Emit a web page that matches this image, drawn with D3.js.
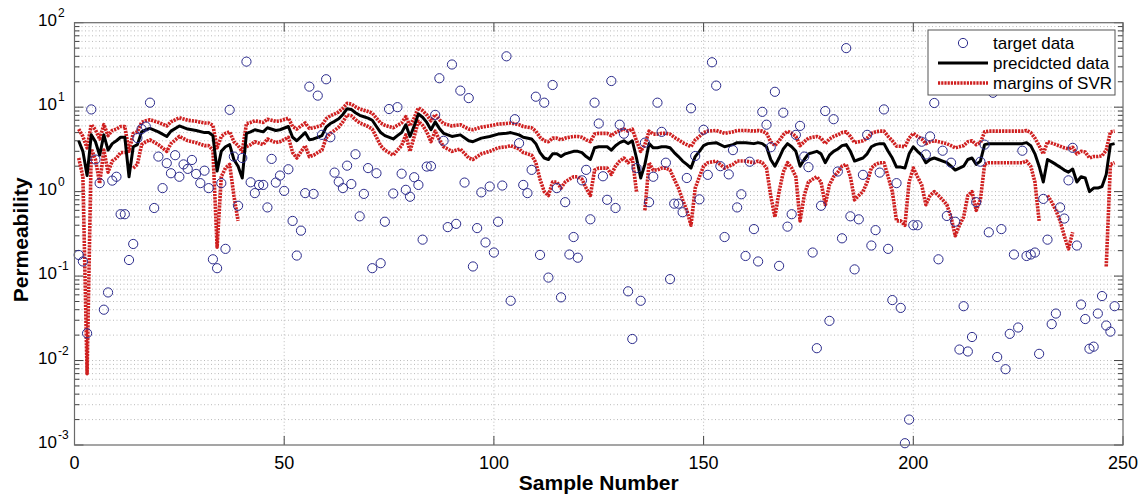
<!DOCTYPE html>
<html><head><meta charset="utf-8">
<script src="https://cdn.jsdelivr.net/npm/d3@7"></script>
<style>body{margin:0;background:#fff}svg{display:block}</style>
</head><body>
<svg id="c" width="1142" height="497"></svg>
<script>
const xTicks=[0,50,100,150,200,250];
const yTickExps=[2,1,0,-1,-2,-3];
const legendLabels=["target data","precidcted data","margins of SVR"];
const xTitle="Sample Number", yTitle="Permeability";

// target data, samples 1..248
const targetData=[0.178,0.149,0.021,9.4,2.4,1.26,0.04,0.064,1.35,1.5,
0.54,0.54,0.155,0.24,4.3,5.5,5.9,11.3,0.64,2.6,
1.1,2.17,1.65,2.7,1.5,2.1,1.86,2.37,1.62,1.26,
1.77,1.1,0.158,0.124,1.26,0.21,9.3,2.6,0.68,2.5,
34.6,1.29,0.96,1.2,1.2,0.65,2.44,1.28,1.55,1.02,
1.84,0.45,0.175,0.345,0.96,17.5,0.94,13.7,4.7,21.4,
4.4,1.68,1.31,1.1,2.03,1.23,2.77,0.51,0.94,1.9,
0.124,1.65,0.142,0.44,9.5,0.95,10,1.63,1.05,0.87,
1.48,1.2,0.27,1.98,2.0,8.1,22,4.0,0.38,32,
0.415,15.7,1.28,12.8,0.13,0.37,0.98,0.25,1.15,0.19,
0.44,1.18,40,0.051,7.2,3.74,1.2,0.96,1.81,13.3,
0.178,11.3,0.096,18.3,1.1,0.056,0.75,0.18,0.29,0.165,
1.36,1.81,0.47,11.3,6.4,1.52,0.8,20.4,0.64,6.2,
4.85,0.066,0.018,1.9,0.051,3.8,0.75,1.5,11.3,5.1,
2.2,0.092,0.72,0.72,0.57,1.45,9.7,2.64,0.81,5.4,
1.58,34,18,2.0,0.29,1.6,3.1,0.65,0.93,0.173,
2.26,0.36,0.149,8.8,6.2,3.35,15.2,0.132,8.6,0.385,
0.54,4.7,6.0,2.6,1.95,0.19,0.014,0.68,9.0,0.0295,
7.2,1.73,0.28,50,0.51,0.12,0.47,1.58,4.7,0.23,
0.35,1.68,9.4,0.21,0.052,1.26,0.042,0.00105,0.002,0.4,
0.4,3.9,2.75,4.5,11.2,0.158,3.05,0.515,2.2,0.44,
0.0135,0.044,0.0128,0.019,0.75,2.26,3.6,0.33,14.8,0.011,
0.36,0.0079,0.0207,0.18,0.0246,3.05,0.173,0.18,0.19,0.012,
0.82,0.27,0.027,0.036,0.65,0.48,1.36,3.3,0.23,0.046,
0.031,0.0138,0.0146,0.036,0.058,0.026,0.022,0.044];

// predicted data [sample, value]
const predictedData=[[1,4.0],[2,3.0],[3,1.55],[4,4.7],[5,3.9],[6,2.7],[7,4.7],[8,3.1],[9,3.7],[10,4.0],[11,4.4],[12,4.4],[13,1.5],[14,3.4],[15,3.6],[16,5.1],[17,5.4],[18,5.6],[20,5.1],[22,4.5],[23,5.2],[25,6.0],[27,5.5],[29,5.3],[31,5.0],[32,5.0],[33,4.6],[34,1.75],[35,3.0],[36,3.4],[37,3.6],[38,2.4],[39,2.0],[40,1.45],[41,4.9],[42,5.1],[43,5.4],[45,5.1],[46,5.7],[48,5.3],[49,5.4],[51,5.9],[52,4.4],[53,4.0],[55,5.0],[56,4.1],[57,4.2],[58,4.4],[59,4.6],[60,5.8],[61,6.4],[62,6.8],[63,7.3],[64,8.2],[65,9.6],[66,9.4],[67,8.6],[68,8.0],[69,7.7],[70,7.4],[71,7.0],[72,5.9],[73,5.0],[74,4.6],[76,4.2],[77,4.6],[78,5.0],[79,6.2],[80,4.5],[81,6.0],[82,8.3],[83,7.6],[84,6.6],[85,5.4],[86,6.7],[87,5.6],[88,4.9],[90,4.5],[92,4.7],[94,4.0],[95,3.9],[97,4.3],[99,4.5],[101,4.8],[103,4.9],[104,5.0],[106,4.7],[107,4.4],[109,4.2],[110,3.7],[111,2.9],[112,2.5],[113,2.4],[114,2.8],[115,2.8],[116,2.6],[117,2.8],[118,2.9],[119,3.0],[120,3.0],[121,2.9],[122,2.6],[123,2.4],[124,3.3],[125,3.4],[127,3.4],[128,3.1],[129,3.5],[130,3.8],[131,4.0],[132,3.7],[133,4.0],[134,2.5],[135,1.45],[136,2.1],[137,3.7],[138,3.3],[139,3.3],[140,3.4],[141,3.4],[142,3.3],[143,2.9],[144,2.6],[145,2.3],[146,2.1],[147,1.9],[148,2.6],[149,3.0],[150,3.5],[151,3.7],[153,3.8],[155,3.4],[156,3.5],[157,3.6],[158,3.8],[160,3.8],[162,3.7],[163,3.8],[164,3.7],[165,3.4],[166,2.4],[167,2.0],[168,2.5],[169,3.2],[170,3.7],[171,3.4],[172,3.0],[173,2.0],[174,2.4],[175,2.8],[176,2.9],[177,3.0],[178,2.8],[179,2.2],[180,2.7],[181,3.0],[182,3.2],[183,3.5],[184,3.6],[185,3.0],[186,2.3],[187,2.4],[188,2.5],[189,2.8],[190,3.4],[191,3.6],[192,3.7],[193,3.7],[194,3.0],[195,2.5],[196,1.95],[197,1.95],[198,1.9],[199,2.8],[200,3.4],[201,3.0],[202,2.7],[203,2.2],[204,2.4],[205,2.5],[206,2.4],[207,2.3],[208,2.2],[209,2.0],[210,1.8],[211,1.9],[212,2.0],[213,2.4],[214,2.5],[215,2.1],[216,2.3],[217,3.6],[218,3.7],[220,3.7],[222,3.7],[224,3.7],[226,3.7],[227,3.8],[228,3.5],[229,2.8],[230,2.0],[231,1.3],[232,2.4],[233,2.25],[234,2.1],[235,1.95],[236,1.8],[237,1.7],[238,1.85],[239,1.3],[240,1.5],[241,1.45],[242,1.0],[243,1.1],[244,1.1],[245,1.15],[246,1.6],[247,3.6],[248,3.7]];

// upper margin of SVR [sample, value]
const upperMargin=[[1,5.5],[2,4.5],[3,3.3],[4,6.2],[5,5.4],[6,4.2],[7,6.2],[8,4.6],[9,5.3],[10,5.5],[11,5.9],[12,5.9],[13,3.0],[14,4.9],[15,5.1],[16,6.6],[17,6.9],[18,7.1],[20,6.6],[22,6.0],[23,6.7],[25,7.5],[27,7.0],[29,6.8],[31,6.5],[32,6.5],[33,6.1],[34,3.3],[35,4.5],[36,4.9],[37,5.1],[38,3.9],[39,3.5],[40,3.0],[41,6.4],[42,6.6],[43,6.9],[45,6.6],[46,7.2],[48,6.8],[49,6.9],[51,7.4],[52,5.9],[53,5.5],[55,6.5],[56,5.6],[57,5.7],[58,5.9],[59,6.1],[60,7.3],[61,7.9],[62,8.3],[63,8.8],[64,9.7],[65,11.1],[66,10.9],[67,10.1],[68,9.5],[69,9.2],[70,8.9],[71,8.5],[72,7.4],[73,6.5],[74,6.1],[76,5.7],[77,6.1],[78,6.5],[79,7.7],[80,6.0],[81,7.5],[82,9.8],[83,9.1],[84,8.1],[85,6.9],[86,8.2],[87,7.1],[88,6.4],[90,6.0],[92,6.2],[94,5.5],[95,5.4],[97,5.8],[99,6.0],[101,6.3],[103,6.4],[104,6.5],[106,6.2],[107,5.9],[109,5.7],[110,5.2],[111,4.4],[112,4.0],[113,3.9],[114,4.3],[115,4.3],[116,4.1],[117,4.3],[118,4.4],[119,4.5],[120,4.5],[121,4.4],[122,4.1],[123,3.9],[124,4.8],[125,4.9],[127,4.9],[128,4.6],[129,5.0],[130,5.3],[131,5.5],[132,5.2],[133,5.5],[134,4.0],[135,3.0],[136,3.6],[137,5.2],[138,4.8],[139,4.8],[140,4.9],[141,4.9],[142,4.8],[143,4.4],[144,4.1],[145,3.8],[146,3.6],[147,3.4],[148,4.1],[149,4.5],[150,5.0],[151,5.2],[153,5.3],[155,4.9],[156,5.0],[157,5.1],[158,5.3],[160,5.3],[162,5.2],[163,5.3],[164,5.2],[165,4.9],[166,3.9],[167,3.5],[168,4.0],[169,4.7],[170,5.2],[171,4.9],[172,4.5],[173,3.5],[174,3.9],[175,4.3],[176,4.4],[177,4.5],[178,4.3],[179,3.7],[180,4.2],[181,4.5],[182,4.7],[183,5.0],[184,5.1],[185,4.5],[186,3.8],[187,3.9],[188,4.0],[189,4.3],[190,4.9],[191,5.1],[192,5.2],[193,5.2],[194,4.5],[195,4.0],[196,3.45],[197,3.45],[198,3.4],[199,4.3],[200,4.9],[201,4.5],[202,4.2],[203,3.7],[204,3.9],[205,4.0],[206,3.9],[207,3.8],[208,3.7],[209,3.5],[210,3.3],[211,3.4],[212,3.5],[213,3.9],[214,4.0],[215,3.6],[216,3.8],[217,5.1],[218,5.2],[220,5.2],[222,5.2],[224,5.2],[226,5.2],[227,5.3],[228,5.0],[229,4.3],[230,3.5],[231,2.8],[232,3.9],[233,3.75],[234,3.6],[235,3.45],[236,3.3],[237,3.2],[238,3.35],[239,2.8],[240,3.0],[241,2.95],[242,2.5],[243,2.6],[244,2.6],[245,2.65],[246,3.1],[247,5.1],[248,5.2]];

// lower margin of SVR [sample, value]; null = not positive (not drawn on log axis)
const lowerMargin=[[1,2.5],[2,1.5],[3,0.007],[4,3.2],[5,2.4],[6,1.25],[7,3.1],[8,1.7],[9,2.3],[10,2.5],[11,2.9],[12,2.9],[13,null],[14,1.9],[15,2.1],[16,3.6],[17,3.9],[18,4.1],[20,3.6],[22,3.0],[23,3.7],[25,4.5],[27,4.0],[29,3.8],[31,3.5],[32,3.5],[33,3.1],[34,0.22],[35,1.5],[36,1.9],[37,2.1],[38,0.9],[39,0.45],[40,null],[41,3.4],[42,3.6],[43,3.9],[45,3.6],[46,4.2],[48,3.8],[49,3.9],[51,4.4],[52,2.9],[53,2.5],[55,3.5],[56,2.6],[57,2.7],[58,2.9],[59,3.1],[60,4.3],[61,4.9],[62,5.3],[63,5.8],[64,6.7],[65,8.1],[66,7.9],[67,7.1],[68,6.5],[69,6.2],[70,5.9],[71,5.5],[72,4.4],[73,3.5],[74,3.1],[76,2.7],[77,3.1],[78,3.5],[79,4.7],[80,3.0],[81,4.5],[82,6.8],[83,6.1],[84,5.1],[85,3.9],[86,5.2],[87,4.1],[88,3.4],[90,3.0],[92,3.2],[94,2.5],[95,2.4],[97,2.8],[99,3.0],[101,3.3],[103,3.4],[104,3.5],[106,3.2],[107,2.9],[109,2.7],[110,2.2],[111,1.4],[112,1.0],[113,0.9],[114,1.3],[115,1.3],[116,1.1],[117,1.3],[118,1.4],[119,1.5],[120,1.5],[121,1.4],[122,1.1],[123,0.9],[124,1.8],[125,1.9],[127,1.9],[128,1.6],[129,2.0],[130,2.3],[131,2.5],[132,2.2],[133,2.5],[134,1.0],[135,null],[136,0.6],[137,2.2],[138,1.8],[139,1.8],[140,1.9],[141,1.9],[142,1.8],[143,1.4],[144,1.1],[145,0.8],[146,0.6],[147,0.4],[148,1.1],[149,1.5],[150,2.0],[151,2.2],[153,2.3],[155,1.9],[156,2.0],[157,2.1],[158,2.3],[160,2.3],[162,2.2],[163,2.3],[164,2.2],[165,1.9],[166,0.9],[167,0.5],[168,1.0],[169,1.7],[170,2.2],[171,1.9],[172,1.5],[173,0.45],[174,0.9],[175,1.3],[176,1.4],[177,1.5],[178,1.3],[179,0.7],[180,1.2],[181,1.5],[182,1.7],[183,2.0],[184,2.1],[185,1.5],[186,0.8],[187,0.9],[188,1.0],[189,1.3],[190,1.9],[191,2.1],[192,2.2],[193,2.2],[194,1.5],[195,1.0],[196,0.45],[197,0.45],[198,0.4],[199,1.3],[200,1.9],[201,1.5],[202,1.2],[203,0.7],[204,0.9],[205,1.0],[206,0.9],[207,0.8],[208,0.7],[209,0.5],[210,0.3],[211,0.4],[212,0.5],[213,0.9],[214,1.0],[215,0.6],[216,0.8],[217,2.1],[218,2.2],[220,2.2],[222,2.2],[224,2.2],[226,2.2],[227,2.3],[228,2.0],[229,1.3],[230,0.45],[231,null],[232,0.9],[233,0.75],[234,0.6],[235,0.45],[236,0.3],[237,0.21],[238,0.33],[239,null],[240,null],[241,null],[242,null],[243,null],[244,null],[245,null],[246,0.13],[247,2.1],[248,2.2]];

const svg=d3.select("#c");
const M={l:74.5,r:1123,t:22.7,b:445};
const x=d3.scaleLinear().domain([0,250]).range([M.l,M.r]);
const y=d3.scaleLog().domain([1e-3,1e2]).range([M.b,M.t]);
const FONT="'Liberation Sans', Arial, Helvetica, sans-serif";

// grid
const gridVals=[];
for(let k=-3;k<=1;k++){for(let j=1;j<=9;j++){gridVals.push(j*Math.pow(10,k));}}
gridVals.push(100);
const grid=svg.append("g").attr("stroke","#a8a8a8").attr("stroke-width",0.8).attr("stroke-dasharray","1,2.5");
grid.selectAll("line.h").data(gridVals.filter(v=>v>1e-3&&v<100)).join("line")
 .attr("x1",M.l).attr("x2",M.r).attr("y1",d=>y(d)).attr("y2",d=>y(d));
grid.selectAll("line.v").data(xTicks.filter(t=>t>0&&t<250)).join("line")
 .attr("y1",M.t).attr("y2",M.b).attr("x1",d=>x(d)).attr("x2",d=>x(d));

// ticks
const tk=svg.append("g").attr("stroke","#444").attr("stroke-width",1);
gridVals.forEach(v=>{
  const major=Math.abs(Math.log10(v)-Math.round(Math.log10(v)))<1e-9;
  const L=major?9:5;
  tk.append("line").attr("x1",M.l).attr("x2",M.l+L).attr("y1",y(v)).attr("y2",y(v));
  tk.append("line").attr("x1",M.r).attr("x2",M.r-L).attr("y1",y(v)).attr("y2",y(v));
});
xTicks.forEach(t=>{
  tk.append("line").attr("x1",x(t)).attr("x2",x(t)).attr("y1",M.b).attr("y2",M.b-9);
  tk.append("line").attr("x1",x(t)).attr("x2",x(t)).attr("y1",M.t).attr("y2",M.t+9);
});

// lines
const line=d3.line().defined(d=>d[1]!=null).x(d=>x(d[0])).y(d=>y(d[1]));
const red="#cf2020";
svg.append("path").datum(upperMargin).attr("d",line).attr("fill","none")
 .attr("stroke",red).attr("stroke-width",3.6).attr("stroke-dasharray","2.2,1").attr("stroke-linejoin","round");
svg.append("path").datum(lowerMargin).attr("d",line).attr("fill","none")
 .attr("stroke",red).attr("stroke-width",3.6).attr("stroke-dasharray","2.2,1").attr("stroke-linejoin","round");
svg.append("path").datum(predictedData).attr("d",line).attr("fill","none")
 .attr("stroke","#000").attr("stroke-width",3).attr("stroke-linejoin","round");

// target circles
svg.append("g").selectAll("circle").data(targetData).join("circle")
 .attr("cx",(d,i)=>x(i+1)).attr("cy",d=>y(d)).attr("r",4.6)
 .attr("fill","none").attr("stroke","#2b2b8c").attr("stroke-width",1);

// frame
svg.append("rect").attr("x",M.l).attr("y",M.t).attr("width",M.r-M.l).attr("height",M.b-M.t)
 .attr("fill","none").attr("stroke","#6a6a6a").attr("stroke-width",1.2);

// tick labels
svg.append("g").selectAll("text").data(xTicks).join("text")
 .attr("x",d=>x(d)).attr("y",469).attr("text-anchor","middle")
 .attr("font-family",FONT).attr("font-size",18).text(d=>d);
const yl=svg.append("g").attr("font-family",FONT);
yTickExps.forEach(e=>{
  const yy=y(Math.pow(10,e));
  yl.append("text").attr("x",57).attr("y",yy+3).attr("text-anchor","end").attr("font-size",17).text("10");
  yl.append("text").attr("x",58).attr("y",yy-6).attr("text-anchor","start").attr("font-size",12).text(String(e));
});

// axis titles
svg.append("text").attr("x",x(125)).attr("y",490).attr("text-anchor","middle")
 .attr("font-family",FONT).attr("font-weight","bold").attr("font-size",21).text(xTitle);
svg.append("text").attr("transform",`translate(28,${(M.t+M.b)/2+6}) rotate(-90)`).attr("text-anchor","middle")
 .attr("font-family",FONT).attr("font-weight","bold").attr("font-size",21).text(yTitle);

// legend
const lg=svg.append("g").attr("font-family",FONT).attr("font-size",17);
lg.append("rect").attr("x",928).attr("y",30).attr("width",187).attr("height",65)
 .attr("fill","#fff").attr("stroke","#555").attr("stroke-width",1);
lg.append("circle").attr("cx",963).attr("cy",43).attr("r",4.6).attr("fill","none").attr("stroke","#2b2b8c");
lg.append("line").attr("x1",938).attr("x2",988).attr("y1",63).attr("y2",63).attr("stroke","#000").attr("stroke-width",3);
lg.append("line").attr("x1",938).attr("x2",988).attr("y1",83).attr("y2",83).attr("stroke",red).attr("stroke-width",3.6).attr("stroke-dasharray","2.2,1");
legendLabels.forEach((s,i)=>{
  lg.append("text").attr("x",993).attr("y",49+i*20).text(s);
});
</script>
</body></html>
